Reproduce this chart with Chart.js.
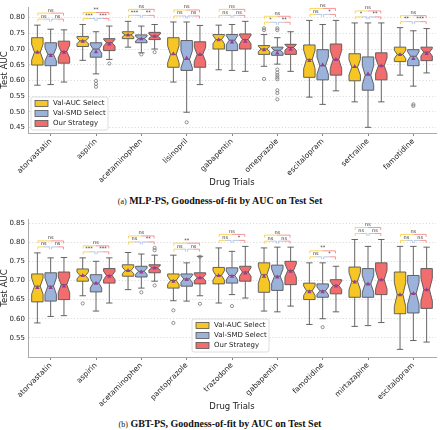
<!DOCTYPE html>
<html>
<head>
<meta charset="utf-8">
<script src="https://cdn.jsdelivr.net/npm/chart.js@4.4.0/dist/chart.umd.min.js"></script>
<style>
  body { margin: 0; background: #fff; width: 440px; height: 430px; position: relative; overflow: hidden; }
  .panel { position: absolute; left: 0; }
  .caption { position: absolute; left: 0; width: 440px; text-align: center; line-height: 12px;
             font-family: 'Liberation Serif', serif; font-size: 10px; font-weight: bold; color: #111; }
  .caption span { font-weight: normal; font-size: 8px; }
</style>
</head>
<body>
<div class="panel" style="top:0"><canvas id="mlp" width="440" height="190"></canvas></div>
<div class="caption" style="top:195px"><span>(a)</span> MLP-PS, Goodness-of-fit by AUC on Test Set</div>
<div class="panel" style="top:212px"><canvas id="gbt" width="440" height="200"></canvas></div>
<div class="caption" style="top:418px"><span>(b)</span> GBT-PS, Goodness-of-fit by AUC on Test Set</div>
<script>
const strategies = ['Val-AUC Select', 'Val-SMD Select', 'Our Strategy'];
const fills = ['#F6C624', '#9BB2DB', '#F26D6D'];

// each box: [low whisker, q1, median, q3, high whisker]
const mlpDrugs = ['atorvastatin', 'aspirin', 'acetaminophen', 'lisinopril', 'gabapentin',
                  'omeprazole', 'escitalopram', 'sertraline', 'famotidine'];
const mlpValAuc = [
  [0.585, 0.649, 0.690, 0.736, 0.776],
  [0.664, 0.708, 0.726, 0.740, 0.778],
  [0.706, 0.733, 0.745, 0.755, 0.788],
  [0.595, 0.642, 0.683, 0.736, 0.786],
  [0.634, 0.700, 0.730, 0.746, 0.776],
  [0.645, 0.683, 0.700, 0.711, 0.746],
  [0.547, 0.610, 0.667, 0.713, 0.791],
  [0.532, 0.599, 0.642, 0.685, 0.783],
  [0.617, 0.660, 0.683, 0.706, 0.768]
];
const mlpValSmd = [
  [0.587, 0.647, 0.683, 0.720, 0.763],
  [0.621, 0.674, 0.700, 0.720, 0.755],
  [0.688, 0.720, 0.733, 0.745, 0.773],
  [0.499, 0.632, 0.667, 0.727, 0.786],
  [0.632, 0.695, 0.728, 0.746, 0.778],
  [0.652, 0.680, 0.696, 0.706, 0.736],
  [0.524, 0.602, 0.647, 0.698, 0.778],
  [0.451, 0.569, 0.617, 0.675, 0.783],
  [0.582, 0.647, 0.677, 0.698, 0.758]
];
const mlpOurs = [
  [0.595, 0.655, 0.692, 0.725, 0.761],
  [0.667, 0.695, 0.720, 0.733, 0.773],
  [0.700, 0.730, 0.741, 0.753, 0.778],
  [0.587, 0.642, 0.683, 0.723, 0.775],
  [0.629, 0.700, 0.730, 0.748, 0.788],
  [0.629, 0.683, 0.705, 0.715, 0.755],
  [0.567, 0.617, 0.667, 0.716, 0.791],
  [0.532, 0.602, 0.647, 0.688, 0.783],
  [0.624, 0.663, 0.690, 0.706, 0.765]
];
const mlpValAucMean = [0.690, 0.725, 0.745, 0.685, 0.730, 0.698, 0.664, 0.645, 0.683];
const mlpValSmdMean = [0.680, 0.692, 0.733, 0.672, 0.723, 0.688, 0.650, 0.622, 0.670];
const mlpOursMean   = [0.690, 0.716, 0.741, 0.683, 0.725, 0.700, 0.667, 0.647, 0.686];
const mlpValAucOut = [[], [], [], [], [], [0.766, 0.760, 0.605], [], [], []];
const mlpValSmdOut = [[], [0.599, 0.589, 0.580], [0.683], [0.467], [],
  [0.766, 0.760, 0.635, 0.625, 0.617, 0.610, 0.604, 0.569, 0.560, 0.540], [], [], [0.524, 0.519]];
const mlpOursOut = [[], [0.654], [0.690], [], [], [], [], [], []];
// [AUC vs SMD, SMD vs Ours, AUC vs Ours]
const mlpSig = [['ns', 'ns', 'ns'], ['***', '***', '**'], ['***', '**', 'ns'], ['ns', 'ns', 'ns'],
  ['ns', 'ns', 'ns'], ['*', '**', 'ns'], ['ns', '*', 'ns'], ['*', '**', 'ns'], ['**', '***', 'ns']];
const mlpTicks = [0.45, 0.50, 0.55, 0.60, 0.65, 0.70, 0.75, 0.80];

const gbtDrugs = ['atorvastatin', 'aspirin', 'acetaminophen', 'pantoprazole', 'trazodone',
                  'gabapentin', 'famotidine', 'mirtazapine', 'escitalopram'];
const gbtValAuc = [
  [0.589, 0.644, 0.685, 0.717, 0.772],
  [0.660, 0.698, 0.713, 0.730, 0.759],
  [0.676, 0.711, 0.726, 0.741, 0.773],
  [0.647, 0.680, 0.700, 0.717, 0.766],
  [0.641, 0.691, 0.713, 0.734, 0.785],
  [0.620, 0.669, 0.715, 0.746, 0.785],
  [0.585, 0.650, 0.673, 0.693, 0.746],
  [0.580, 0.656, 0.698, 0.735, 0.807],
  [0.520, 0.613, 0.663, 0.722, 0.789]
];
const gbtValSmd = [
  [0.606, 0.646, 0.685, 0.720, 0.759],
  [0.620, 0.670, 0.693, 0.715, 0.750],
  [0.680, 0.709, 0.724, 0.737, 0.769],
  [0.646, 0.685, 0.704, 0.717, 0.746],
  [0.663, 0.693, 0.713, 0.733, 0.776],
  [0.618, 0.674, 0.711, 0.740, 0.787],
  [0.600, 0.656, 0.673, 0.691, 0.746],
  [0.582, 0.656, 0.691, 0.731, 0.789],
  [0.543, 0.615, 0.666, 0.713, 0.789]
];
const gbtOurs = [
  [0.608, 0.650, 0.689, 0.722, 0.760],
  [0.641, 0.693, 0.713, 0.731, 0.759],
  [0.698, 0.720, 0.733, 0.741, 0.766],
  [0.660, 0.691, 0.707, 0.720, 0.763],
  [0.654, 0.698, 0.722, 0.737, 0.789],
  [0.633, 0.689, 0.726, 0.750, 0.787],
  [0.618, 0.665, 0.687, 0.702, 0.737],
  [0.590, 0.663, 0.702, 0.746, 0.807],
  [0.539, 0.627, 0.676, 0.731, 0.787]
];
const gbtValAucMean = [0.682, 0.713, 0.726, 0.698, 0.713, 0.711, 0.671, 0.696, 0.663];
const gbtValSmdMean = [0.682, 0.693, 0.722, 0.703, 0.711, 0.709, 0.671, 0.691, 0.666];
const gbtOursMean   = [0.686, 0.711, 0.733, 0.707, 0.720, 0.724, 0.686, 0.702, 0.676];
const gbtValAucOut = [[], [0.640], [], [0.622, 0.589], [], [], [], [], []];
const gbtValSmdOut = [[], [], [0.669], [], [0.633], [], [0.578], [], []];
const gbtOursOut = [[], [], [0.785, 0.779, 0.687], [0.762, 0.639], [], [], [], [], []];
const gbtSig = [['ns', 'ns', 'ns'], ['***', '***', 'ns'], ['ns', '**', 'ns'], ['ns', 'ns', '**'],
  ['ns', '*', 'ns'], ['ns', 'ns', 'ns'], ['ns', '*', '**'], ['ns', 'ns', 'ns'], ['ns', 'ns', 'ns']];
const gbtTicks = [0.55, 0.60, 0.65, 0.70, 0.75, 0.80, 0.85];

const notchRuns = 30; // runs per box, used for notch size
const edge = '#555';

Chart.defaults.font.family = "'DejaVu Sans', sans-serif";
Chart.defaults.color = '#222';


function drawBox(ctx, x, w, ys, b, fill, mean, outs) {
  const [lo, q1, med, q3, hi] = b;
  const notch = 1.57 * (q3 - q1) / Math.sqrt(notchRuns);
  const nLo = Math.max(med - notch, q1), nHi = Math.min(med + notch, q3);
  const xL = x - w / 2, xR = x + w / 2, inset = w * 0.25;
  const p = v => ys.getPixelForValue(v);

  ctx.strokeStyle = edge;
  ctx.lineWidth = 0.9;
  // whiskers and caps
  ctx.beginPath();
  ctx.moveTo(x, p(q3)); ctx.lineTo(x, p(hi));
  ctx.moveTo(x, p(q1)); ctx.lineTo(x, p(lo));
  ctx.moveTo(x - w * 0.28, p(hi)); ctx.lineTo(x + w * 0.28, p(hi));
  ctx.moveTo(x - w * 0.28, p(lo)); ctx.lineTo(x + w * 0.28, p(lo));
  ctx.stroke();

  // notched box
  ctx.beginPath();
  ctx.moveTo(xL, p(q1));
  ctx.lineTo(xR, p(q1));
  ctx.lineTo(xR, p(nLo));
  ctx.lineTo(xR - inset, p(med));
  ctx.lineTo(xR, p(nHi));
  ctx.lineTo(xR, p(q3));
  ctx.lineTo(xL, p(q3));
  ctx.lineTo(xL, p(nHi));
  ctx.lineTo(xL + inset, p(med));
  ctx.lineTo(xL, p(nLo));
  ctx.closePath();
  ctx.fillStyle = fill;
  ctx.fill();
  ctx.stroke();

  ctx.beginPath();
  ctx.moveTo(xL + inset, p(med)); ctx.lineTo(xR - inset, p(med));
  ctx.stroke();

  // mean marker
  const my = p(mean);
  ctx.fillStyle = '#9A3C96';
  ctx.beginPath();
  ctx.moveTo(x, my - 2.4); ctx.lineTo(x + 2.2, my + 1.6); ctx.lineTo(x - 2.2, my + 1.6);
  ctx.closePath();
  ctx.fill();

  // outliers
  ctx.strokeStyle = '#777';
  ctx.lineWidth = 0.8;
  for (const o of outs) {
    ctx.beginPath();
    ctx.arc(x, p(o), 1.6, 0, Math.PI * 2);
    ctx.stroke();
  }
}

function drawBracket(ctx, x1, x2, y, c1, c2, label) {
  const xm = (x1 + x2) / 2;
  ctx.lineWidth = 0.9;
  ctx.globalAlpha = 0.8;
  ctx.strokeStyle = c1;
  ctx.beginPath(); ctx.moveTo(x1, y + 2.5); ctx.lineTo(x1, y); ctx.lineTo(xm, y); ctx.stroke();
  ctx.strokeStyle = c2;
  ctx.beginPath(); ctx.moveTo(xm, y); ctx.lineTo(x2, y); ctx.lineTo(x2, y + 2.5); ctx.stroke();
  ctx.globalAlpha = 1;
  ctx.fillStyle = '#333';
  ctx.font = "5px 'DejaVu Sans'";
  ctx.textAlign = 'center';
  ctx.textBaseline = 'bottom';
  ctx.fillText(label, xm, y - 0.3);
}

function drawLegend(ctx, left, bottom) {
  const w = 77, h = 33, top = bottom - h;
  ctx.fillStyle = 'rgba(255,255,255,0.85)';
  ctx.strokeStyle = '#d6d6d6';
  ctx.lineWidth = 0.8;
  ctx.beginPath();
  ctx.roundRect(left, top, w, h, 2);
  ctx.fill();
  ctx.stroke();
  ctx.font = "7px 'DejaVu Sans'";
  ctx.textAlign = 'left';
  ctx.textBaseline = 'middle';
  strategies.forEach((name, s) => {
    const cy = top + 6.5 + s * 10;
    ctx.fillStyle = fills[s];
    ctx.fillRect(left + 4, cy - 3, 13, 6);
    ctx.strokeStyle = edge;
    ctx.strokeRect(left + 4, cy - 3, 13, 6);
    ctx.fillStyle = '#222';
    ctx.fillText(name, left + 22, cy);
  });
}

function makeBoxPlugin(panel) {
  return {
    id: 'notchedBoxes',
    afterDatasetsDraw(chart) {
      const {ctx, chartArea} = chart;
      const ys = chart.scales.y;
      ctx.save();
      panel.boxes.forEach((boxes, s) => {
        const meta = chart.getDatasetMeta(s);
        meta.data.forEach((bar, i) => {
          drawBox(ctx, bar.x, bar.width, ys, boxes[i], fills[s], panel.means[s][i], panel.outs[s][i]);
        });
      });

      // significance brackets
      panel.labels.forEach((lab, i) => {
        const xs = [0, 1, 2].map(s => chart.getDatasetMeta(s).data[i].x);
        let topV = 0;
        for (let s = 0; s < 3; s++) {
          topV = Math.max(topV, panel.boxes[s][i][4], ...panel.outs[s][i]);
        }
        const lower = ys.getPixelForValue(topV) - 6;
        const upper = lower - 6;
        const sig = panel.sig[i];
        drawBracket(ctx, xs[0] + 0.5, xs[1] - 1, lower, fills[0], fills[1], sig[0]);
        drawBracket(ctx, xs[1] + 1, xs[2] - 0.5, lower, fills[1], fills[2], sig[1]);
        drawBracket(ctx, xs[0] + 0.5, xs[2] - 0.5, upper, fills[0], fills[2], sig[2]);
      });

      const lx = panel.legendX === null ? chartArea.left + 3 : panel.legendX;
      drawLegend(ctx, lx, chartArea.bottom - panel.legendGap);
      ctx.restore();
    }
  };
}

function buildChart(id, panel) {
  const datasets = strategies.map((name, s) => ({
    label: name,
    data: panel.boxes[s].map(b => [b[1], b[3]]),
    backgroundColor: 'rgba(0,0,0,0)',
    borderWidth: 0,
    categoryPercentage: 0.88,
    barPercentage: 0.86
  }));

  return new Chart(document.getElementById(id), {
    type: 'bar',
    data: { labels: panel.labels, datasets: datasets },
    options: {
      responsive: false,
      animation: false,
      layout: { padding: { top: panel.padTop, right: 4, left: 0, bottom: 0 } },
      plugins: { legend: { display: false }, tooltip: { enabled: false } },
      scales: {
        x: {
          afterFit: scale => { scale.height = panel.xHeight; },
          grid: { drawOnChartArea: false, drawTicks: true, tickLength: 3, color: '#888', offset: false },
          border: { display: true, color: '#aaa', width: 1 },
          ticks: { minRotation: 45, maxRotation: 45, autoSkip: false, padding: 1, font: { size: 7.5 } },
          title: { display: true, text: 'Drug Trials', font: { size: 8.5 }, padding: { top: 0, bottom: panel.titlePad } }
        },
        y: {
          min: panel.min,
          max: panel.max,
          afterFit: scale => { scale.width = 28; },
          afterBuildTicks: scale => { scale.ticks = panel.ticks.map(v => ({ value: v })); },
          grid: { color: '#d4d4d4', lineWidth: 0.8, drawTicks: false },
          border: { display: true, color: '#aaa', width: 1, dash: [1.2, 2] },
          ticks: { padding: 3, font: { size: 7 }, callback: v => v.toFixed(2) },
          title: { display: true, text: 'Test AUC', font: { size: 8.5 }, padding: 0 }
        }
      }
    },
    plugins: [makeBoxPlugin(panel)]
  });
}

buildChart('mlp', {
  labels: mlpDrugs,
  boxes: [mlpValAuc, mlpValSmd, mlpOurs],
  means: [mlpValAucMean, mlpValSmdMean, mlpOursMean],
  outs: [mlpValAucOut, mlpValSmdOut, mlpOursOut],
  sig: mlpSig,
  ticks: mlpTicks,
  min: 0.433, max: 0.833,
  padTop: 0, xHeight: 57, titlePad: 2,
  legendX: null, legendGap: 3
});

buildChart('gbt', {
  labels: gbtDrugs,
  boxes: [gbtValAuc, gbtValSmd, gbtOurs],
  means: [gbtValAucMean, gbtValSmdMean, gbtOursMean],
  outs: [gbtValAucOut, gbtValSmdOut, gbtOursOut],
  sig: gbtSig,
  ticks: gbtTicks,
  min: 0.50, max: 0.86,
  padTop: 7, xHeight: 55, titlePad: 0,
  legendX: 192, legendGap: 5
});
</script>
</body>
</html>
